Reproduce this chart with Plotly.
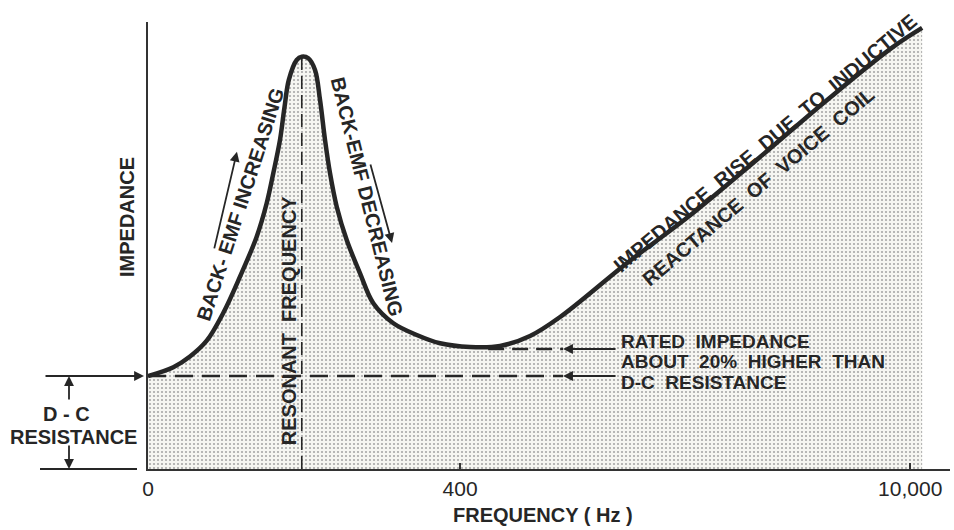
import plotly.graph_objects as go

# Schematic frequency axis (position units: 0 -> "0", 400 -> "400", 977 -> "10,000")
freq_pos = [0, 32.5, 53.8, 75.3, 96.6, 117.9, 139.3, 152.2, 160.6, 169.2, 174.8, 180.5,
            190.6, 197.1, 205.5, 214.1, 220.5, 226.9, 233.3, 241.9, 254.7, 271.8, 288.8, 314.5,
            344.5, 374.4, 412.8, 451.3, 489.7, 528.2, 614.1, 698.7, 784.6, 870.5, 955.1, 992.3]
# Impedance in units of the d-c resistance
impedance = [1.000, 1.095, 1.210, 1.380, 1.680, 2.068, 2.498, 2.860, 3.180, 3.538, 3.880,
             4.183, 4.398, 4.433, 4.416, 4.290, 3.968, 3.538, 3.180, 2.820, 2.462, 2.104, 1.782,
             1.567, 1.441, 1.352, 1.312, 1.323, 1.430, 1.634, 2.215, 2.753, 3.355, 3.968, 4.538,
             4.742]

tick_pos = [0, 400, 977]
tick_text = ["0", "400", "10,000"]

dc_resistance = 1.0
rated_impedance = 1.29
resonant_pos = 197.1
resonant_peak = impedance[freq_pos.index(resonant_pos)]
dc_line_end = 532
rated_line_start = 436

INK = "#262626"
FONT = "Liberation Sans"

fig = go.Figure()

# shaded area + impedance curve
fig.add_trace(go.Scatter(
    x=freq_pos, y=impedance, mode="lines",
    line=dict(color=INK, width=4.5, shape="spline", smoothing=1.0),
    fill="tozeroy",
    fillpattern=dict(shape=".", fgcolor="#a8a8a8", bgcolor="#f6f6f2", size=4, solidity=0.22),
    hoverinfo="skip", showlegend=False,
))

# d-c resistance dashed level
fig.add_trace(go.Scatter(
    x=[0, dc_line_end], y=[dc_resistance, dc_resistance], mode="lines",
    line=dict(color=INK, width=2.5, dash="18px,9px"), hoverinfo="skip", showlegend=False,
))
# rated impedance dashed level
fig.add_trace(go.Scatter(
    x=[rated_line_start, dc_line_end], y=[rated_impedance, rated_impedance], mode="lines",
    line=dict(color=INK, width=2.5, dash="16px,8px"), hoverinfo="skip", showlegend=False,
))
# resonant frequency dashed vertical
fig.add_trace(go.Scatter(
    x=[resonant_pos, resonant_pos], y=[0, resonant_peak], mode="lines",
    line=dict(color=INK, width=1.6, dash="13px,6px"), hoverinfo="skip", showlegend=False,
))

W, H = 954, 530
ML, MR, MT, MB = 148, 4, 22, 61
PW = W - ML - MR
PH = H - MT - MB


def px(xp):
    return (xp - ML) / PW


def py(yp):
    return (H - MB - yp) / PH


ann = []
txt = dict(family=FONT, size=20, color=INK, weight="bold")
center = dict(xanchor="center", yanchor="middle", showarrow=False, font=txt, borderpad=0)

# curve labels
ann.append(dict(x=118, y=2.84, text="BACK- EMF INCREASING", textangle=-72, **center))
ann.append(dict(x=280.8, y=2.925, text="BACK-EMF DECREASING", textangle=76, **center))
ann.append(dict(x=180.8, y=1.60, text="RESONANT  FREQUENCY", textangle=-90, **center))
ann.append(dict(x=791, y=3.505, text="IMPEDANCE  RISE  DUE  TO  INDUCTIVE", textangle=-40, **center))
ann.append(dict(x=782, y=3.03, text="REACTANCE  OF  VOICE  COIL", textangle=-40, **center))

# arrows along the curve
arrow = dict(showarrow=True, arrowhead=2, arrowsize=1.1, arrowwidth=1.8, arrowcolor=INK, text="")
ann.append(dict(x=114, y=3.41, ax=-23, ay=98, **arrow))
ann.append(dict(x=312.8, y=2.43, ax=-22, ay=-80, **arrow))

# rated / d-c pointer arrows and text
ann.append(dict(x=532, y=rated_impedance, ax=54, ay=0, **arrow))
ann.append(dict(x=532, y=dc_resistance, ax=54, ay=0, **arrow))
small = dict(family=FONT, size=19, color=INK, weight="bold")
for yv, t in [(1.366, "RATED  IMPEDANCE"), (1.151, "ABOUT  20%  HIGHER  THAN"), (0.935, "D-C  RESISTANCE")]:
    ann.append(dict(x=605, y=yv, text=t, xanchor="left", yanchor="middle", showarrow=False,
                    font=small, borderpad=0))

# left d-c resistance dimension
ann.append(dict(x=0, y=dc_resistance, ax=-104, ay=0, standoff=4, **arrow))
ann.append(dict(xref="paper", yref="paper", x=px(69), y=py(376), ax=0, ay=25, **arrow))
ann.append(dict(xref="paper", yref="paper", x=px(69), y=py(469), ax=0, ay=-25, **arrow))
ann.append(dict(xref="paper", yref="paper", x=px(66), y=py(414), text="D - C", **center))
ann.append(dict(xref="paper", yref="paper", x=px(73), y=py(437), text="RESISTANCE", **center))

# axis titles
ann.append(dict(xref="paper", yref="paper", x=px(127), y=py(217), text="IMPEDANCE", textangle=-90, **center))
ann.append(dict(xref="paper", yref="paper", x=px(543), y=py(515), text="FREQUENCY ( Hz )", **center))

shapes = [dict(type="line", xref="paper", yref="paper", x0=px(40), x1=px(137), y0=0, y1=0,
               line=dict(color=INK, width=2))]

fig.update_layout(
    template="none",
    width=W, height=H,
    margin=dict(l=ML, r=MR, t=MT, b=MB, autoexpand=False),
    paper_bgcolor="white", plot_bgcolor="white",
    annotations=ann, shapes=shapes,
    xaxis=dict(range=[0, 1028], showgrid=False, zeroline=False, showline=True, linecolor="#333",
               linewidth=2, tickvals=tick_pos, ticktext=tick_text, ticks="inside", ticklen=6,
               tickcolor="#333", tickwidth=1.5, automargin=False,
               tickfont=dict(family=FONT, size=21, color=INK), fixedrange=True),
    yaxis=dict(range=[0, 4.806], showgrid=False, zeroline=False, showline=True, linecolor="#333",
               linewidth=2, showticklabels=False, ticks="", automargin=False, fixedrange=True),
)

fig.write_html("out.html", config={"displayModeBar": False},
               post_script="document.body.style.margin='0px';document.body.style.overflow='hidden';")
